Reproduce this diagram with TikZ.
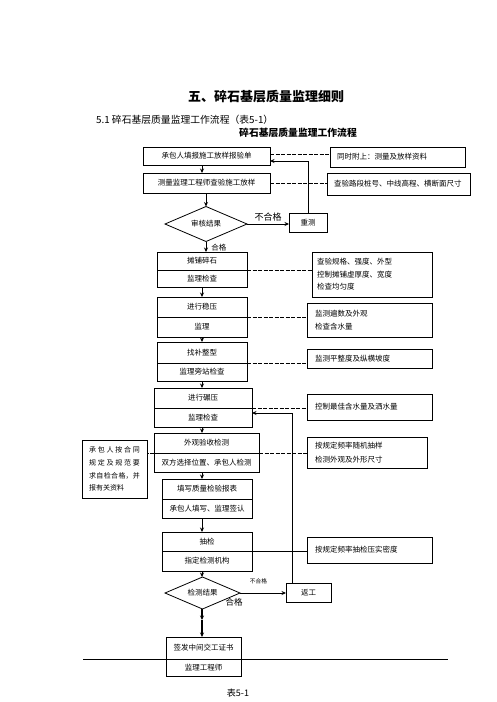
\documentclass[tikz,border=0pt]{standalone}
\usepackage{fontspec}
\setmainfont{Noto Sans CJK SC}
\usetikzlibrary{positioning,shapes.geometric,arrows.meta}
\XeTeXlinebreaklocale "zh"
\XeTeXlinebreakskip=0pt plus 2pt

\begin{document}
\begin{tikzpicture}[x=1pt,y=-1pt,
  cadre/.style={draw, line width=0.8pt, inner sep=1pt, outer sep=0pt, font=\fontsize{7.5}{9}\selectfont},
  note/.style={draw, line width=0.8pt, align=left, inner sep=0pt, outer sep=0pt, font=\fontsize{7.5}{13}\selectfont},
  losange/.style={draw, diamond, aspect=2.3, line width=0.8pt, inner sep=0pt, outer sep=0pt, font=\fontsize{7.5}{9}\selectfont},
  fleche/.style={-{Stealth[length=4.5pt,width=4pt]}, line width=0.9pt},
  tiret/.style={line width=0.5pt, dash pattern=on 4pt off 1.5pt}]
  \useasboundingbox (0,0) rectangle (496,702);

  % Les titres
  \node[font=\fontsize{13}{15}\selectfont\bfseries] (titre) at (266,97) {五、碎石基层质量监理细则};
  \node[font=\fontsize{9.8}{11}\selectfont, anchor=west, inner sep=0pt] (soustitre) at (96,120) {5.1 碎石基层质量监理工作流程（表5-1）};
  \node[font=\fontsize{9.8}{11}\selectfont\bfseries] (titreflux) at (298,133) {碎石基层质量监理工作流程};

  % Les axes des fleches
  \coordinate (axe) at (202,0);
  \coordinate (axe2) at (206,0);

  % Le haut
  \node[cadre, minimum width=127pt, minimum height=18pt] (cbsq) at (206.5,156) {承包人填报施工放样报验单};
  \node[cadre, minimum width=127pt, minimum height=20pt] (clcy) at (206.5,183) {测量监理工程师查验施工放样};
  \node[losange, minimum width=82pt, minimum height=35pt] (shjg) at (206,224) {审核结果};
  \node[cadre, minimum width=38pt, minimum height=19pt] (cc) at (308,223) {重测};
  \node[note, text width=121pt, inner xsep=7pt, minimum height=20pt] (fsz) at (397.5,157) {同时附上：测量及放样资料};
  \node[note, text width=129pt, inner xsep=7pt, minimum height=22pt] (cyzh) at (398.5,184) {查验路段桩号、中线高程、横断面尺寸};

  % Les boites doubles
  \node[cadre, minimum width=90pt, minimum height=18pt] (tp) at (202,261) {摊铺碎石};
  \node[cadre, minimum width=90pt, minimum height=17pt, below=0pt of tp] (tpj) {监理检查};
  \node[cadre, minimum width=90pt, minimum height=20pt] (wy) at (202,307) {进行稳压};
  \node[cadre, minimum width=90pt, minimum height=20pt, below=0pt of wy] (wyj) {监理};
  \node[cadre, minimum width=90pt, minimum height=21pt] (zb) at (202,352.5) {找补整型};
  \node[cadre, minimum width=90pt, minimum height=18pt, below=0pt of zb] (zbj) {监理旁站检查};
  \node[cadre, minimum width=98pt, minimum height=20pt] (ny) at (203,398) {进行碾压};
  \node[cadre, minimum width=98pt, minimum height=19pt, below=0pt of ny] (nyj) {监理检查};
  \node[cadre, minimum width=105pt, minimum height=20pt] (wg) at (206.5,443) {外观验收检测};
  \node[cadre, minimum width=105pt, minimum height=19pt, below=0pt of wg] (wgj) {双方选择位置、承包人检测};
  \node[cadre, minimum width=90pt, minimum height=20pt] (tx) at (207,489) {填写质量检验报表};
  \node[cadre, minimum width=90pt, minimum height=19pt, below=0pt of tx] (txj) {承包人填写、监理签认};
  \node[cadre, minimum width=90pt, minimum height=19pt] (cj) at (207,541.5) {抽检};
  \node[cadre, minimum width=90pt, minimum height=20pt, below=0pt of cj] (cjj) {指定检测机构};
  \node[losange, minimum width=75pt, minimum height=32pt] (jcjg) at (202.5,593) {检测结果};
  \node[cadre, minimum width=45pt, minimum height=19pt] (fg) at (308.5,592.5) {返工};
  \node[cadre, minimum width=75pt, minimum height=22pt] (qf) at (203.5,648) {签发中间交工证书};
  \node[cadre, minimum width=75pt, minimum height=17pt, below=0pt of qf] (qfj) {监理工程师};

  % Les remarques
  \node[note, text width=110pt, inner xsep=5pt, minimum height=45pt, font=\fontsize{7.5}{12.5}\selectfont] (ncy) at (372,274.5) {查验规格、强度、外型\\控制摊铺虚厚度、宽度\\检查均匀度};
  \node[note, text width=109pt, inner xsep=8pt, minimum height=34pt] (nbs) at (369.5,320) {监测遍数及外观\\检查含水量};
  \node[note, text width=109pt, inner xsep=8pt, minimum height=19pt] (npz) at (369.5,358.5) {监测平整度及纵横坡度};
  \node[note, text width=109pt, inner xsep=8pt, minimum height=26pt] (nhs) at (369.5,407) {控制最佳含水量及洒水量};
  \node[note, text width=104pt, inner xsep=8pt, minimum height=31pt, font=\fontsize{7.5}{14}\selectfont] (ncy2) at (367,452.5) {按规定频率随机抽样\\检测外观及外形尺寸};
  \node[note, text width=109pt, inner xsep=8pt, minimum height=26pt] (nmd) at (369.5,550) {按规定频率抽检压实密度};
  \node[note, text width=51pt, inner xsep=7pt, minimum height=58pt, align=justify, font=\fontsize{7}{12.7}\selectfont] (nzj) at (114.5,469) {承包人按合同\linebreak 规定及规范要\linebreak 求自检合格，并\linebreak 报有关资料};

  % Les fleches
  \draw[fleche] (cbsq.south -| axe) -- (clcy.north -| axe);
  \draw[fleche] (clcy.south -| axe2) -- (shjg.north);
  \draw[fleche] (shjg.south) -- (tp.north -| axe2) node[pos=0.55, anchor=west, xshift=5pt, inner sep=0pt, font=\fontsize{7.5}{9}\selectfont] {合格};
  \draw[fleche] (shjg.east) -- (shjg.east -| cc.west) node[midway, above=-1pt, font=\fontsize{9}{11}\selectfont] {不合格};
  \draw[fleche] (cc.north) |- ([yshift=-5pt]cbsq.east);
  \draw[fleche] (tpj.south -| axe) -- (wy.north -| axe);
  \draw[fleche] (wyj.south -| axe) -- (zb.north -| axe);
  \draw[fleche] (zbj.south -| axe) -- (ny.north -| axe);
  \draw[fleche] (nyj.south -| axe) -- (wg.north -| axe);
  \draw[fleche] (wgj.south -| axe) -- (tx.north -| axe);
  \draw[fleche] (txj.south -| axe) -- (cj.north -| axe);
  \draw[fleche] (cjj.south -| axe) -- (jcjg.north -| axe);
  \draw[fleche] (jcjg.east) -- (jcjg.east -| fg.west) node[pos=0.4, above=5pt, font=\fontsize{5.7}{7}\selectfont] {不合格};
  \node[font=\fontsize{8.5}{10}\selectfont] (hg) at (234,602) {合格};
  \draw[fleche] ([xshift=6pt]fg.north west) |- ([yshift=4.5pt]nyj.east);
  \coordinate (mi) at (202,620);
  \draw[fleche, line width=1.2pt] (jcjg.south -| axe) -- (mi);
  \draw[fleche, line width=1.2pt] (mi) -- (qf.north -| axe);

  % Les tirets
  \draw[tiret] ([yshift=2pt]cbsq.east) -- ([yshift=2pt]cbsq.east -| fsz.west);
  \draw[tiret] (clcy.east) -- (clcy.east -| cyzh.west);
  \draw[tiret] (tp.south east) -- (tp.south east -| ncy.west);
  \draw[tiret] (wy.south east) -- (wy.south east -| nbs.west);
  \draw[tiret] (zb.south east) -- (zb.south east -| npz.west);
  \draw[tiret] (ny.south east) -- (ny.south east -| nhs.west);
  \draw[tiret] (wg.south east) -- (wg.south east -| ncy2.west);
  \draw[tiret] (wg.south west) -- (wg.south west -| nzj.east);
  \draw[line width=0.8pt] (cj.south east) -- (cj.south east -| nmd.west);

  % Le bas
  \draw[line width=0.8pt] (83,659) -- (448,659);
  \node[font=\fontsize{9}{11}\selectfont] (tab) at (238,693) {表5-1};
\end{tikzpicture}
\end{document}
